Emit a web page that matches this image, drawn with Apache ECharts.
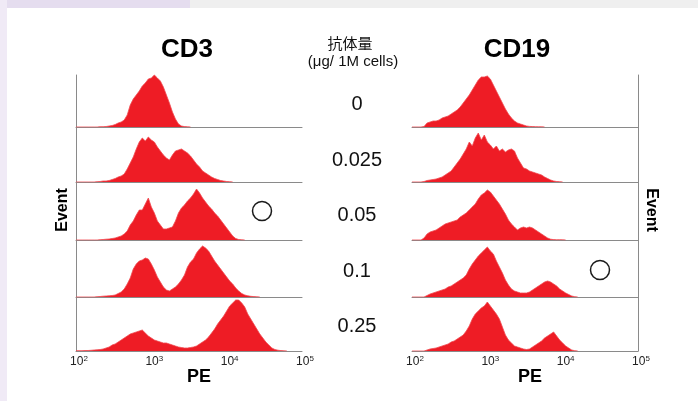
<!DOCTYPE html>
<html><head><meta charset="utf-8">
<script src="https://cdn.jsdelivr.net/npm/echarts@6/dist/echarts.min.js"></script>
<style>html,body{margin:0;padding:0;background:#fff}#c{width:698px;height:401px}</style>
</head><body><div id="c"></div>
<script>
// PE bins: log10(PE) from 2.00 in steps of 0.04 decades
const LOG_MIN = 2, LOG_STEP = 0.04;
const panelTitles = ['CD3', 'CD19'];
const doseTitle = '抗体量';
const doseUnit = '(μg/ 1M cells)';
const doses = ['0', '0.025', '0.05', '0.1', '0.25'];
const tickExponents = [2, 3, 4, 5];
const xName = 'PE', yName = 'Event';

// relative event counts per bin, CD3 panel (one array per antibody dose)
const cd3_0 = [0,0,0,0,0,0,0,0,0.3,0.3,0.5,1,1.5,2.5,4,5,7,12,22,28,32,36,41,44,48,49,52,49,46,40,32,24,15,8,3,1,0.4,0.2,0];
const cd3_025 = [0,0,0,0,0,0,0,0.3,0.5,1,1,1.5,2.5,3.5,5,6,8,13,19,25,33,40,44,41,45,42,40,35,31,27,24,22,27,31,32,33,31,29,26,22,18,15,11,9,7,5,3.5,2.5,1.5,1,0.5,0.3,0];
const cd3_05 = [0,0,0,0,0,0,0,0,0.3,0.5,0.8,1,1.5,2,3,4,6,9,15,19,25,30,30,36,42,33,27,19,15,11,11,12,13,19,27,32,35,39,42,46,51,47,42,38,34,31,27,24,20,16,12,8,4,1.5,0.5,0.2,0];
const cd3_1 = [0,0,0,0,0,0,0,0.3,0.5,0.8,1,1.2,1.5,2,3.5,5,8,13,19,28,33,36,37,39,38,33,27,20,15,10,7,6,8,10,13,17,22,30,35,38,44,48,51,49,46,41,36,32,28,24,20,16,13,9,6,3.5,2,1.2,0.7,0.4,0.2,0];
const cd3_25 = [0.3,0.3,0.3,0.5,0.5,0.7,1,1.2,1.5,2,3,4,6,7,9,11,13,15,17,18,19,20,21,18,15,13,11,10,9,8,8,7,6,5,4,3.5,3,3,3.5,4,5,7,9,11,14,18,22,27,31,35,40,45,48,51,51,48,44,37,32,27,22,17,13,9,6,3,1.5,0.8,0.4,0.2,0];

// relative event counts per bin, CD19 panel
const cd19_0 = [0,0,0,0,0.5,4,5,6,6,7,9,10,11,13,15,17,20,24,28,32,37,42,47,50,50,51,48,42,36,30,24,18,13,9,6,4,3,2,1,0.6,0.4,0.3,0.2,0.2,0];
const cd19_025 = [0,0,0,0,0.5,1.5,2,2.5,3,4,5,7,9,11,15,19,23,28,33,40,36,44,49,42,47,40,37,33,36,31,33,30,32,33,31,24,19,14,13,11,10,9,8,7,5,3.5,2,1,0.5,0.3,0];
const cd19_05 = [0,0,0,0,2,6,8,9,10,12,14,16,17,18,19,20,23,25,27,30,33,36,41,45,47,50,48,44,40,36,31,26,20,16,13,10,12,13,12,13,12,10,8,6,4,2,0.8,0.4,0.2,0.3,0.2,0];
const cd19_1 = [0,0,0,0,0,1.5,3,4,5,6,7,8,10,11,13,15,17,19,22,28,33,37,41,44,47,50,46,43,36,30,24,17,12,8,6,5,4,4,4,5,7,9,11,13,15,16,15,13,11,8,6,4,2.5,1,0.3,0];
const cd19_25 = [0,0,0,0,0,1,2,2.5,3,4,5,6,7,9,10,12,14,16,20,25,32,37,40,43,45,49,45,41,37,32,24,16,11,8,5,4,3,2,1.5,2,4,6,8,10,13,15,17,19,15,11,8,5,3,1,0.3,0];

const cd3Series = [cd3_0, cd3_025, cd3_05, cd3_1, cd3_25];
const cd19Series = [cd19_0, cd19_025, cd19_05, cd19_1, cd19_25];

// layout
const rowTop = [75, 127, 182, 240, 297];
const rowH = [52, 55, 58, 57, 54];
const panelLeft = [76, 412];
const panelW = 226;
const RED = '#ee1c25';
const AXIS = '#8a8a8a';
const FONT = '"Liberation Sans", Arial, Helvetica, sans-serif';

const grids = [], xAxes = [], yAxes = [], series = [];
[cd3Series, cd19Series].forEach((set, p) => {
  set.forEach((arr, r) => {
    const idx = grids.length;
    grids.push({left: panelLeft[p], top: rowTop[r], width: panelW, height: rowH[r], containLabel: false});
    const last = r === set.length - 1;
    xAxes.push({
      gridIndex: idx, type: 'log', logBase: 10, min: 100, max: 100000,
      axisLine: {show: true, lineStyle: {color: AXIS, width: 1}},
      axisTick: {show: false}, splitLine: {show: false},
      axisLabel: {
        show: last, margin: 4, color: '#222', fontFamily: FONT,
        padding: [0, 0, 0, 6],
        formatter: v => {
          const e = Math.round(Math.log10(v));
          return tickExponents.indexOf(e) >= 0 ? '{a|10}{s|' + e + '}' : '';
        },
        rich: {
          a: {fontSize: 12, color: '#222', fontFamily: FONT, lineHeight: 14},
          s: {fontSize: 8, color: '#222', fontFamily: FONT, lineHeight: 14, verticalAlign: 'top', padding: [0, 0, 5, 0]}
        }
      }
    });
    yAxes.push({
      gridIndex: idx, type: 'value', min: 0, max: rowH[r],
      position: p === 0 ? 'left' : 'right',
      axisLine: {show: true, lineStyle: {color: AXIS, width: 1}},
      axisTick: {show: false}, axisLabel: {show: false}, splitLine: {show: false}
    });
    series.push({
      type: 'line', xAxisIndex: idx, yAxisIndex: idx,
      data: arr.map((v, i) => [Math.pow(10, LOG_MIN + i * LOG_STEP), v]),
      showSymbol: false, symbol: 'none', smooth: false, silent: true,
      lineStyle: {color: '#f04a50', width: 0.8},
      areaStyle: {color: RED, opacity: 1}
    });
  });
});

const graphics = [
  {type: 'rect', shape: {x: 0, y: 0, width: 698, height: 8}, style: {fill: '#efefef'}, silent: true},
  {type: 'rect', shape: {x: 0, y: 0, width: 190, height: 8}, style: {fill: '#e5ddef'}, silent: true},
  {type: 'rect', shape: {x: 0, y: 0, width: 7, height: 401}, style: {fill: '#f0eaf6'}, silent: true},
  {type: 'text', x: 187, y: 50, style: {text: panelTitles[0], font: 'bold 26px ' + FONT, fill: '#000', textAlign: 'center', textVerticalAlign: 'middle'}},
  {type: 'text', x: 517, y: 50, style: {text: panelTitles[1], font: 'bold 26px ' + FONT, fill: '#000', textAlign: 'center', textVerticalAlign: 'middle'}},
  {type: 'text', x: 350, y: 43, style: {text: doseTitle, font: '15px "Noto Sans CJK JP", sans-serif', fill: '#111', textAlign: 'center', textVerticalAlign: 'middle'}},
  {type: 'text', x: 353, y: 62, style: {text: doseUnit, font: '15px ' + FONT, fill: '#111', textAlign: 'center', textVerticalAlign: 'middle'}},
  {type: 'text', x: 63, y: 210, rotation: Math.PI / 2, style: {text: yName, font: 'bold 16px ' + FONT, fill: '#000', textAlign: 'center', textVerticalAlign: 'middle'}},
  {type: 'text', x: 651, y: 210, rotation: -Math.PI / 2, style: {text: yName, font: 'bold 16px ' + FONT, fill: '#000', textAlign: 'center', textVerticalAlign: 'middle'}},
  {type: 'text', x: 199, y: 377, style: {text: xName, font: 'bold 18px ' + FONT, fill: '#000', textAlign: 'center', textVerticalAlign: 'middle'}},
  {type: 'text', x: 530, y: 377, style: {text: xName, font: 'bold 18px ' + FONT, fill: '#000', textAlign: 'center', textVerticalAlign: 'middle'}},
  {type: 'circle', shape: {cx: 262, cy: 211, r: 9.5}, style: {fill: 'none', stroke: '#1a1a1a', lineWidth: 1.5}},
  {type: 'circle', shape: {cx: 600, cy: 270, r: 9.5}, style: {fill: 'none', stroke: '#1a1a1a', lineWidth: 1.5}}
];
const doseY = [104, 160, 215, 271, 326];
doses.forEach((d, i) => graphics.push({type: 'text', x: 357, y: doseY[i], style: {text: d, font: '20px ' + FONT, fill: '#111', textAlign: 'center', textVerticalAlign: 'middle'}}));

const chart = echarts.init(document.getElementById('c'), null, {renderer: 'canvas'});
chart.setOption({
  backgroundColor: '#ffffff',
  animation: false,
  grid: grids, xAxis: xAxes, yAxis: yAxes, series: series,
  graphic: graphics
});
</script>
</body></html>
